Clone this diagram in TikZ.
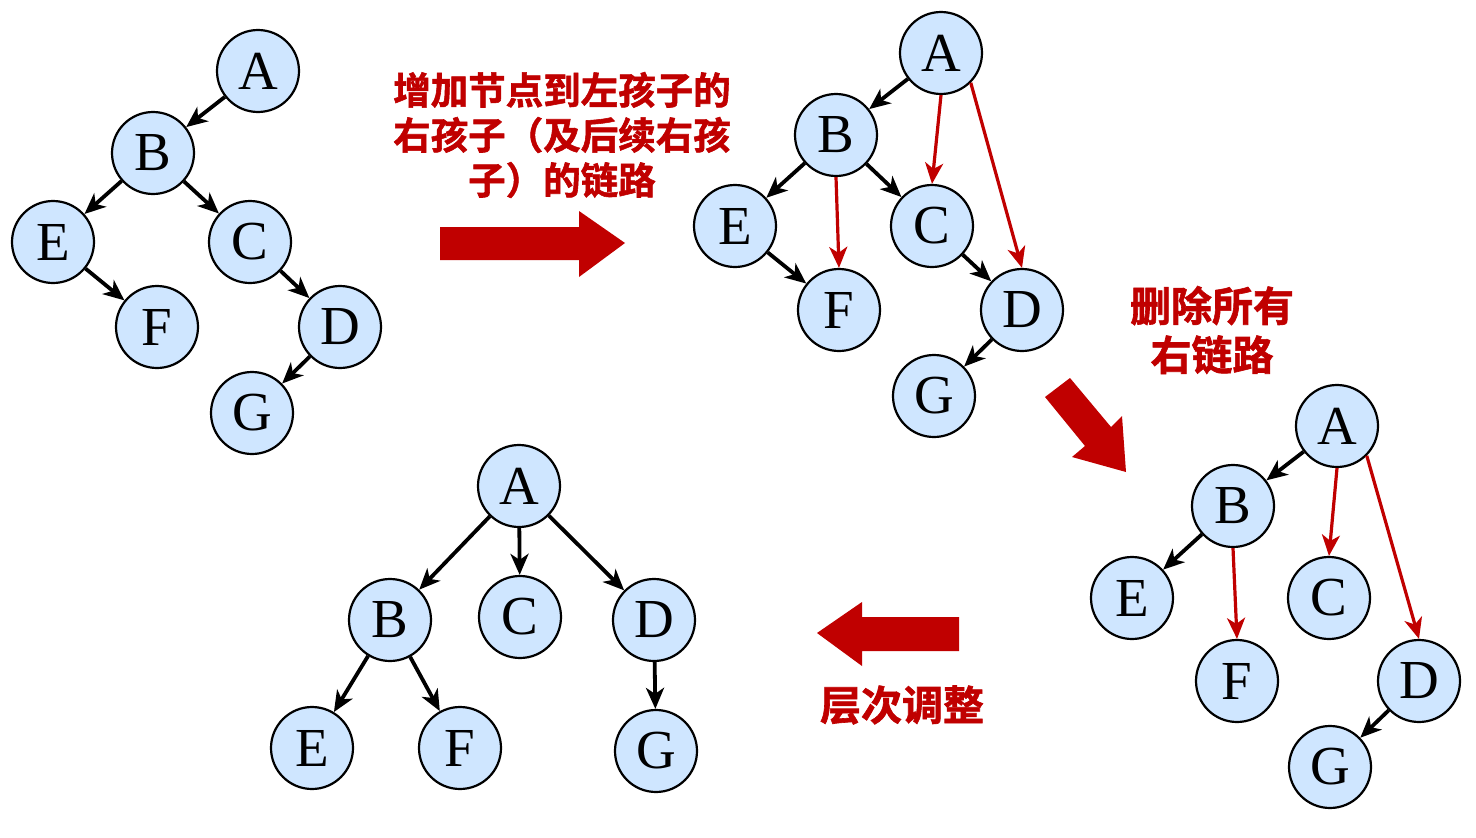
\documentclass[tikz,border=0pt]{standalone}
\usepackage{fontspec}
\setmainfont{Liberation Serif}
\newfontfamily\cjk[FakeBold=1.5]{Noto Sans CJK SC Bold}
\usetikzlibrary{arrows.meta}
\definecolor{nodefill}{HTML}{CFE6FF}
\definecolor{darkred}{HTML}{C00000}
\begin{document}
\begin{tikzpicture}[x=1pt,y=-1pt,
  tn/.style={circle,draw=black,line width=2.2pt,fill=nodefill,minimum size=82pt,inner sep=0pt,font=\fontsize{55}{55}\selectfont},
  be/.style={line width=3.8pt,-{Stealth[length=21pt,width=18pt,inset=6pt]}},
  re/.style={draw=darkred,line width=3.2pt,-{Stealth[length=21pt,width=18pt,inset=6pt]}},
  lbl/.style={text=darkred,font=\cjk\fontsize{37.5}{45}\selectfont,align=center},
  lblb/.style={text=darkred,font=\cjk\fontsize{41}{49}\selectfont,align=center},
  bigarrow/.style={fill=darkred,draw=none}]
\useasboundingbox (0,0) rectangle (1476,838);
% Tree 1
\node[tn] (a1) at (258,71) {A};
\node[tn] (b1) at (153,153) {B};
\node[tn] (e1) at (53,242) {E};
\node[tn] (c1) at (250,242) {C};
\node[tn] (f1) at (157,327) {F};
\node[tn] (d1) at (340,327) {D};
\node[tn] (g1) at (252,413) {G};
\draw[be] (a1) -- (b1);
\draw[be] (b1) -- (e1);
\draw[be] (b1) -- (c1);
\draw[be] (e1) -- (f1);
\draw[be] (c1) -- (d1);
\draw[be] (d1) -- (g1);
% Tree 2
\node[tn] (a2) at (941,53) {A};
\node[tn] (b2) at (836,135) {B};
\node[tn] (e2) at (735,226) {E};
\node[tn] (c2) at (932,226) {C};
\node[tn] (f2) at (839,310) {F};
\node[tn] (d2) at (1022,310) {D};
\node[tn] (g2) at (934,396) {G};
\draw[be] (a2) -- (b2);
\draw[be] (b2) -- (e2);
\draw[be] (b2) -- (c2);
\draw[be] (e2) -- (f2);
\draw[be] (c2) -- (d2);
\draw[be] (d2) -- (g2);
\draw[re] (a2.south) -- (c2.north);
\draw[re] (a2.south east) -- (d2.north);
\draw[re] (b2.south) -- (f2.north);
% Tree 3
\node[tn] (a3) at (1337,426) {A};
\node[tn] (b3) at (1233,506) {B};
\node[tn] (e3) at (1132,598) {E};
\node[tn] (c3) at (1329,598) {C};
\node[tn] (f3) at (1237,681) {F};
\node[tn] (d3) at (1419,681) {D};
\node[tn] (g3) at (1330,767) {G};
\draw[be] (a3) -- (b3);
\draw[be] (b3) -- (e3);
\draw[be] (d3) -- (g3);
\draw[re] (a3.south) -- (c3.north);
\draw[re] (a3.south east) -- (d3.north);
\draw[re] (b3.south) -- (f3.north);
% Tree 4
\node[tn] (a4) at (519,486) {A};
\node[tn] (b4) at (390,620) {B};
\node[tn] (c4) at (520,617) {C};
\node[tn] (d4) at (654,620) {D};
\node[tn] (e4) at (312,748) {E};
\node[tn] (f4) at (460,748) {F};
\node[tn] (g4) at (656,751) {G};
\draw[be] (a4) -- (b4);
\draw[be] (a4) -- (c4);
\draw[be] (a4) -- (d4);
\draw[be] (b4) -- (e4);
\draw[be] (b4) -- (f4);
\draw[be] (d4) -- (g4);
% Labels
\node[lbl] (t1) at (562,135) {增加节点到左孩子的\\右孩子（及后续右孩\\子）的链路};
\node[lblb] (t2) at (1212,330) {删除所有\\右链路};
\node[lblb] (t3) at (902,705) {层次调整};
% Big arrows
\fill[bigarrow] (440,227) -- (579,227) -- (579,211) -- (625,243) -- (579,277) -- (579,260) -- (440,260) -- cycle;
\fill[bigarrow] (959,617) -- (862,617) -- (862,602) -- (817,633) -- (862,666) -- (862,651) -- (959,651) -- cycle;
\fill[bigarrow] (1045,397) -- (1070,378) -- (1111,427) -- (1122,416) -- (1126,472) -- (1072,457) -- (1085,446) -- cycle;
\end{tikzpicture}
\end{document}
